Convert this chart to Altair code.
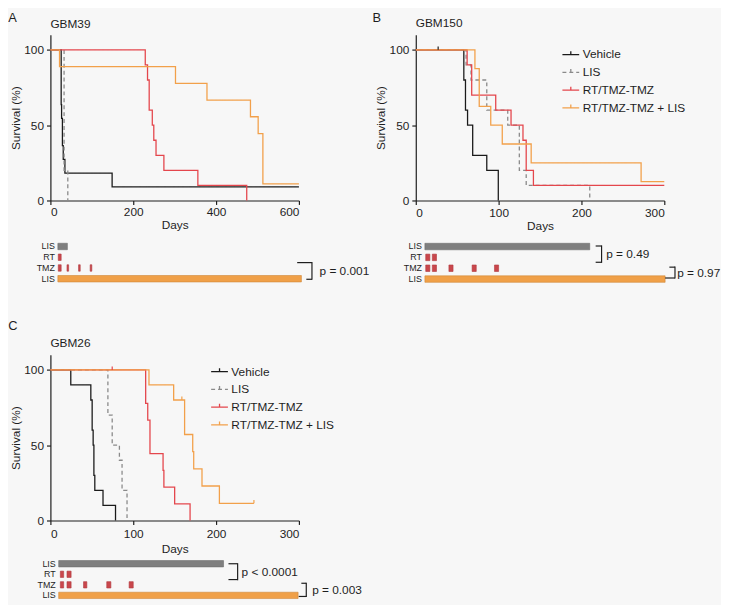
import altair as alt
import pandas as pd

FONT = "Liberation Sans"
INK = "#1e1e1e"
BG = "#f7f7f7"

GROUPS = ["Vehicle", "LIS", "RT/TMZ-TMZ", "RT/TMZ-TMZ + LIS"]
GROUP_COLORS = ["#1a1a1a", "#8a8a8a", "#e4464c", "#f2a04a"]
GROUP_DASH = [[1, 0], [4, 3], [1, 0], [1, 0]]

KINDS = ["LIS", "RT/TMZ", "LIS combo"]
KIND_FILL = ["#7f7f7f", "#c9474c", "#f0a048"]
KIND_STROKE = ["#6f6f6f", "#b03a3f", "#cf8638"]

ROW_NAMES = ["LIS1", "RT", "TMZ", "LIS2"]
ROW_LABELS = ["LIS", "RT", "TMZ", "LIS"]
ROW_KIND = ["LIS", "RT/TMZ", "RT/TMZ", "LIS combo"]

# ---------------- Panel A : GBM39 ----------------
A_VEH_D = [0, 26, 27, 29, 31, 35, 149, 600]
A_VEH_S = [100, 63.6, 54.5, 36.4, 27.3, 18.2, 9.1, 9.1]
A_LIS_D = [0, 33, 42]
A_LIS_S = [100, 20, 0]
A_RT_D = [0, 229, 234.5, 238.5, 246, 249.6, 255, 274, 356, 474]
A_RT_S = [100, 90, 80, 60, 50, 40, 30, 20, 10, 0]
A_RTL_D = [0, 22, 302, 378, 483, 501.6, 513, 600]
A_RTL_S = [100, 88.9, 77.8, 66.7, 55.6, 44.4, 11.1, 11.1]
A_CENS = []  # (group, day, surv)

A_SCHED = {
    "LIS1": [(18, 41)],
    "RT": [(19, 26)],
    "TMZ": [(19, 26), (40, 44), (68, 72), (96, 100)],
    "LIS2": [(18, 606)],
}
A_P = [("LIS2", "p = 0.001")]

# ---------------- Panel B : GBM150 ----------------
B_VEH_D = [0, 58, 60, 62.5, 68.7, 85.7, 99.6]
B_VEH_S = [100, 80, 60, 50, 30, 20, 0]
B_LIS_D = [0, 60.7, 66.7, 85.7, 111, 125, 133.3, 210]
B_LIS_S = [100, 90, 80, 60, 50, 20, 10, 0]
B_RT_D = [0, 62, 67.5, 96.5, 115, 129.4, 133.3, 142, 300]
B_RT_S = [100, 90, 70, 60, 50, 40, 20, 10, 10]
B_RTL_D = [0, 71.4, 76.6, 90.5, 104.4, 139.3, 272, 300]
B_RTL_S = [100, 87.5, 62.5, 50, 37.5, 25, 12.5, 12.5]
B_CENS = [("Vehicle", 27, 100)]

B_SCHED = {
    "LIS1": [(11, 210)],
    "RT": [(12, 17), (20, 25)],
    "TMZ": [(12, 17), (20, 25), (40, 45), (68, 73), (95, 100)],
    "LIS2": [(11, 301)],
}
B_P = [("LIS1", "p = 0.49"), ("LIS2", "p = 0.97")]

# ---------------- Panel C : GBM26 ----------------
C_VEH_D = [0, 24.6, 48.8, 50.4, 51.6, 52.5, 53.6, 63.5, 78.6]
C_VEH_S = [100, 90, 80, 60, 50, 30, 20, 10, 0]
C_LIS_D = [0, 69.4, 74.6, 83.3, 86.5, 92.5]
C_LIS_S = [100, 70, 50, 40, 20, 0]
C_RT_D = [0, 115, 117.5, 120.2, 136, 137, 150, 168.6]
C_RT_S = [100, 77.8, 66.7, 44.4, 33.3, 22.2, 11.1, 0]
C_RTL_D = [0, 119, 148.8, 162, 171.8, 173, 183, 204, 245.7]
C_RTL_S = [100, 90, 80, 57.1, 45.7, 34.3, 22.9, 11.4, 11.4]
C_CENS = [("RT/TMZ-TMZ", 74.6, 100), ("RT/TMZ-TMZ + LIS", 158.7, 80),
          ("RT/TMZ-TMZ + LIS", 245.7, 11.4)]

C_SCHED = {
    "LIS1": [(10, 209)],
    "RT": [(12, 16), (20, 25)],
    "TMZ": [(12, 16), (20, 25), (40, 44), (68, 73), (95, 100)],
    "LIS2": [(10, 299)],
}
C_P = [("LIS1", "p < 0.0001"), ("LIS2", "p = 0.003")]

# bracket styling (row span, pixel offsets from the anchored bar end)
BRACKET_STYLE = {
    "A": [dict(top=1.5, bot=3.05, v=10.7, at=15, ab=5.7, tdx=7.7)],
    "B": [dict(top=-0.05, bot=1.45, v=12, at=6, ab=6, tdx=4.7),
          dict(top=1.9, bot=2.9, v=10, at=5.7, ab=10, tdx=2.2)],
    "C": [dict(top=0.0, bot=1.5, v=14.3, at=9.3, ab=9.3, tdx=4),
          dict(top=1.85, bot=3.1, v=8.3, at=5, ab=7.7, tdx=6)],
}

W = 252
H_KM = 168
ROW_LO, ROW_HI = -0.5, 3.3


def km_frame(curves):
    rows = []
    for g, (days, surv) in zip(GROUPS, curves):
        for i, (d, s) in enumerate(zip(days, surv)):
            rows.append({"group": g, "day": d, "surv": s, "seq": i})
    return pd.DataFrame(rows)


def km_chart(curves, cens, xmax, xticks, title, letter, letter_xy, title_y, legend_xy,
             xlab_pad=2, xtitle_pad=2):
    df = km_frame(curves)
    xs = alt.Scale(domain=[0, xmax], nice=False)
    ys = alt.Scale(domain=[0, 110], nice=False)
    X = alt.X("day:Q", scale=xs,
              axis=alt.Axis(values=xticks, title="Days", titlePadding=xtitle_pad,
                            labelPadding=xlab_pad))
    Y = alt.Y("surv:Q", scale=ys,
              axis=alt.Axis(values=[0, 50, 100], title="Survival (%)",
                            titlePadding=1.5, labelPadding=3))
    if legend_xy is not None:
        leg = alt.Legend(orient="none", legendX=legend_xy[0], legendY=legend_xy[1],
                         title=None, symbolType="M-1,0L1,0M0,0L0,-0.4",
                         symbolSize=289, symbolStrokeWidth=1.3, labelFontSize=12,
                         labelFont=FONT, labelColor=INK, labelOffset=2.5,
                         rowPadding=2, padding=0, labelLimit=300)
    else:
        leg = None
    C = alt.Color("group:N", scale=alt.Scale(domain=GROUPS, range=GROUP_COLORS), legend=leg)
    D = alt.StrokeDash("group:N", scale=alt.Scale(domain=GROUPS, range=GROUP_DASH), legend=leg)
    lines = alt.Chart(df).mark_line(interpolate="step-after", strokeWidth=1.3).encode(
        x=X, y=Y, color=C, strokeDash=D, order="seq:Q")
    layers = [lines]
    if cens:
        cdf = pd.DataFrame(cens, columns=["group", "day", "surv"])
        ticks = alt.Chart(cdf).mark_point(shape="M0,0L0,-1", size=49, filled=False,
                                          strokeWidth=1.2, opacity=1).encode(
            x=X, y=Y, color=C)
        layers.append(ticks)
    lt = alt.Chart(pd.DataFrame({"t": [letter]})).mark_text(
        align="left", baseline="middle", fontSize=13, font=FONT, color=INK).encode(
        text="t:N", x=alt.value(letter_xy[0]), y=alt.value(letter_xy[1]))
    tt = alt.Chart(pd.DataFrame({"t": [title]})).mark_text(
        align="left", baseline="middle", fontSize=12, font=FONT, color=INK).encode(
        text="t:N", x=alt.value(0), y=alt.value(title_y))
    layers += [lt, tt]
    return alt.layer(*layers).properties(width=W, height=H_KM)


def sched_chart(sched, pvals, styles, xmax, step):
    rows = []
    for ri, name in enumerate(ROW_NAMES):
        for (s, e) in sched[name]:
            rows.append({"row": ri, "label": ROW_LABELS[ri], "kind": ROW_KIND[ri],
                         "start": s, "end": e})
    df = pd.DataFrame(rows)
    xs = alt.Scale(domain=[0, xmax], nice=False)
    ys = alt.Scale(domain=[ROW_LO, ROW_HI], reverse=True, nice=False)

    rect = alt.Chart(df).transform_calculate(
        y0="datum.row - 0.3", y1="datum.row + 0.3").mark_rect(strokeWidth=0.6).encode(
        x=alt.X("start:Q", scale=xs, axis=None), x2="end:Q",
        y=alt.Y("y0:Q", scale=ys, axis=None), y2="y1:Q",
        color=alt.Color("kind:N", scale=alt.Scale(domain=KINDS, range=KIND_FILL), legend=None),
        stroke=alt.Stroke("kind:N", scale=alt.Scale(domain=KINDS, range=KIND_STROKE), legend=None))

    labels = alt.Chart(df).transform_joinaggregate(
        x0="min(start)").transform_aggregate(
        x0="min(x0)", groupby=["row", "label"]).mark_text(
        align="right", baseline="middle", dx=-3, fontSize=9, font=FONT, color=INK).encode(
        x=alt.X("x0:Q", scale=xs, axis=None),
        y=alt.Y("row:Q", scale=ys, axis=None), text="label:N")

    layers = [rect, labels]
    for (anchor, ptxt), st in zip(pvals, styles):
        end = max(e for (_, e) in sched[anchor])
        bd = pd.DataFrame([{"end": end, "top": st["top"], "bot": st["bot"],
                            "mid": (st["top"] + st["bot"]) / 2, "p": ptxt}])
        base = alt.Chart(bd)
        Xe = alt.X("end:Q", scale=xs, axis=None)
        vert = base.mark_rule(color=INK, strokeWidth=1.2, xOffset=st["v"],
                              strokeCap="square").encode(
            x=Xe, y=alt.Y("top:Q", scale=ys, axis=None), y2="bot:Q")
        topa = base.mark_rule(color=INK, strokeWidth=1.2, xOffset=st["v"] - st["at"],
                              x2Offset=st["v"]).encode(
            x=Xe, x2="end:Q", y=alt.Y("top:Q", scale=ys, axis=None))
        bota = base.mark_rule(color=INK, strokeWidth=1.2, xOffset=st["v"] - st["ab"],
                              x2Offset=st["v"]).encode(
            x=Xe, x2="end:Q", y=alt.Y("bot:Q", scale=ys, axis=None))
        txt = base.mark_text(align="left", baseline="middle", fontSize=12, font=FONT,
                             color=INK, dx=st["v"] + st["tdx"]).encode(
            x=Xe, y=alt.Y("mid:Q", scale=ys, axis=None), text="p:N")
        layers += [vert, topa, bota, txt]
    return alt.layer(*layers).properties(width=W, height=(ROW_HI - ROW_LO) * step)


def panel(km, sch, gap):
    return alt.vconcat(km, sch, spacing=gap, bounds="flush").resolve_scale(
        color="independent", strokeDash="independent")


kmA = km_chart([(A_VEH_D, A_VEH_S), (A_LIS_D, A_LIS_S), (A_RT_D, A_RT_S), (A_RTL_D, A_RTL_S)],
               A_CENS, 600, [0, 200, 400, 600], "GBM39", "A", (-42.7, -17), -11, None)
kmB = km_chart([(B_VEH_D, B_VEH_S), (B_LIS_D, B_LIS_S), (B_RT_D, B_RT_S), (B_RTL_D, B_RTL_S)],
               B_CENS, 300, [0, 100, 200, 300], "GBM150", "B", (-44, -17), -11.5, (147.7, 10.5),
               xlab_pad=3, xtitle_pad=2.5)
kmC = km_chart([(C_VEH_D, C_VEH_S), (C_LIS_D, C_LIS_S), (C_RT_D, C_RT_S), (C_RTL_D, C_RTL_S)],
               C_CENS, 300, [0, 100, 200, 300], "GBM26", "C", (-42.7, -28.7), -11.7, (162, 7.5),
               xlab_pad=4, xtitle_pad=4)

schA = sched_chart(A_SCHED, A_P, BRACKET_STYLE["A"], 600, 10.9)
schB = sched_chart(B_SCHED, B_P, BRACKET_STYLE["B"], 300, 11.0)
schC = sched_chart(C_SCHED, C_P, BRACKET_STYLE["C"], 300, 10.7)

top = alt.hconcat(panel(kmA, schA, 41.2), panel(kmB, schB, 41.2), spacing=2.5).resolve_scale(
    color="independent", strokeDash="independent")
chart = alt.vconcat(top, panel(kmC, schC, 38.5), spacing=36.5).resolve_scale(
    color="independent", strokeDash="independent").properties(
    padding=0, background=BG).configure(font=FONT).configure_view(stroke=None).configure_axis(
    grid=False, domainColor=INK, tickColor=INK, labelColor=INK, titleColor=INK,
    labelFontSize=12, titleFontSize=12, titleFontWeight="normal", tickSize=4,
    domainWidth=1.2, tickWidth=1.2, labelFont=FONT, titleFont=FONT)

chart.save("out.html", embed_options={"renderer": "svg", "actions": False})
